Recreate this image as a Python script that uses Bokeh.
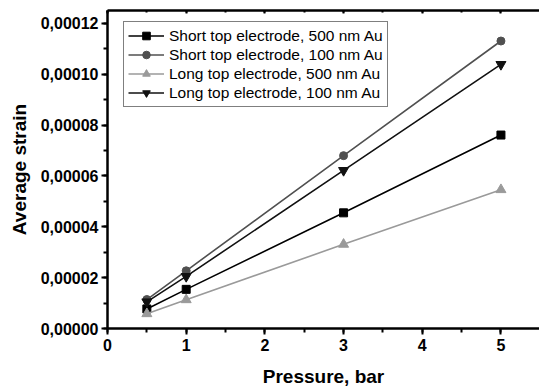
from bokeh.plotting import figure
from bokeh.models import (Range1d, SingleIntervalTicker, CustomJSTickFormatter,
                          LinearAxis, Legend, LegendItem)
from bokeh.embed import file_html
from bokeh.resources import INLINE

pressure = [0.5, 1, 3, 5]
short_500 = [7.7e-6, 1.54e-5, 4.55e-5, 7.61e-5]
short_100 = [1.14e-5, 2.27e-5, 6.80e-5, 1.131e-4]
long_500 = [5.8e-6, 1.13e-5, 3.31e-5, 5.46e-5]
long_100 = [1.05e-5, 2.05e-5, 6.22e-5, 1.039e-4]

labels = ["Short top electrode, 500 nm Au", "Short top electrode, 100 nm Au",
          "Long top electrode, 500 nm Au", "Long top electrode, 100 nm Au"]

FONT = "Liberation Sans"

p = figure(width=539, height=392, output_backend="svg", toolbar_location=None,
           x_range=Range1d(0, 5.49), y_range=Range1d(0, 0.0001251),
           min_border_left=107, min_border_right=0, min_border_top=10,
           min_border_bottom=64, x_axis_location="below", y_axis_location="left")
p.outline_line_color = None
p.grid.visible = False
p.background_fill_color = "white"
p.border_fill_color = "white"

xa = p.xaxis[0]
ya = p.yaxis[0]
xa.ticker = SingleIntervalTicker(interval=1, num_minor_ticks=2)
ya.ticker = SingleIntervalTicker(interval=0.00002, num_minor_ticks=2)
ya.formatter = CustomJSTickFormatter(code="return tick.toFixed(5).replace('.', ',');")
xa.axis_label = "Pressure, bar"
ya.axis_label = "Average strain"
for ax in (xa, ya):
    ax.axis_line_width = 2.5
    ax.axis_line_color = "black"
    ax.major_tick_line_width = 2
    ax.minor_tick_line_width = 2
    ax.major_tick_out = 6
    ax.major_tick_in = 0
    ax.minor_tick_out = 4
    ax.minor_tick_in = 0
    ax.major_label_text_font = FONT
    ax.major_label_text_font_style = "bold"
    ax.major_label_text_font_size = "16px"
    ax.major_label_text_color = "black"
    ax.axis_label_text_font = FONT
    ax.axis_label_text_font_style = "bold"
    ax.axis_label_text_font_size = "19px"
    ax.axis_label_text_color = "black"
xa.major_label_standoff = 4
xa.axis_label_standoff = 12
ya.major_label_standoff = 3
ya.axis_label_standoff = 8

top = LinearAxis(ticker=SingleIntervalTicker(interval=1, num_minor_ticks=2),
                 formatter=CustomJSTickFormatter(code="return '';"),
                 major_tick_in=3, major_tick_out=0,
                 minor_tick_in=2, minor_tick_out=0, axis_line_width=2.5,
                 major_tick_line_width=2, minor_tick_line_width=2,
                 major_label_standoff=0)
p.add_layout(top, "above")

series = [
    (short_500, "#000000", "square", 8),
    (short_100, "#505050", "circle", 8),
    (long_500, "#9a9a9a", "triangle", 10),
    (long_100, "#111111", "inverted_triangle", 10),
]
items = []
for (vals, col, mk, sz), lab in zip(series, labels):
    r1 = p.line(pressure, vals, line_color=col, line_width=1.6)
    r2 = p.scatter(pressure, vals, marker=mk, size=sz, fill_color=col, line_color=col)
    items.append(LegendItem(label=lab, renderers=[r1, r2]))

legend = Legend(items=items, location=(16, 221), orientation="vertical",
                label_text_font=FONT, label_text_font_size="15.5px",
                label_text_color="black", glyph_width=36, glyph_height=19,
                label_height=19, label_standoff=5, spacing=0, padding=4,
                margin=0, border_line_color="black", border_line_width=1,
                background_fill_alpha=1)
p.add_layout(legend, "center")

open("out.html", "w").write(file_html(p, INLINE))
